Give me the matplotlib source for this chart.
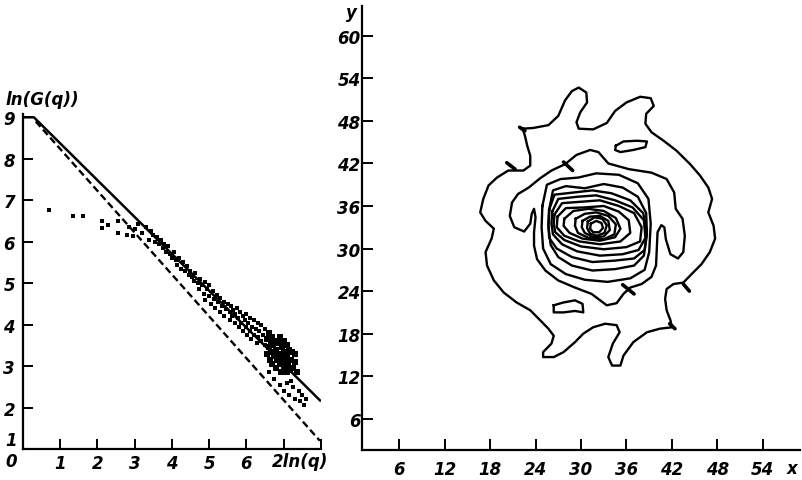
import numpy as np
import matplotlib
matplotlib.use('Agg')
import matplotlib.pyplot as plt

# ---- left panel: ln G(q) vs 2 ln(q) ----
fit_x = [0.0, 0.3, 8.0]
fit_y = [9.0, 9.0, 2.15]
low_x = [0.35, 7.97]
low_y = [8.9, 1.2]

stray_x = [0.71, 1.34, 1.62, 2.12, 2.30, 2.12, 2.56, 2.56, 2.79, 2.97]
stray_y = [6.76, 6.61, 6.61, 6.49, 6.41, 6.33, 6.49, 6.20, 6.16, 6.13]

clust_x = [2.85, 3.0, 3.1, 3.2, 3.3, 3.4, 3.45, 3.5,
           3.55, 3.6, 3.65, 3.7, 3.75, 3.8, 3.85, 3.9, 3.95, 4.0, 4.05, 4.1,
           4.15, 4.2, 4.25, 4.3, 4.35, 4.4, 4.45, 4.5,
           4.55, 4.6, 4.62, 4.7, 4.72, 4.75, 4.8, 4.85, 4.88, 4.9, 4.95, 5.0,
           5.0, 5.05, 5.1, 5.12, 5.15, 5.2, 5.25, 5.3, 5.3, 5.35, 5.4, 5.4,
           5.45, 5.5,
           5.55, 5.55, 5.6, 5.62, 5.65, 5.7, 5.7, 5.75, 5.78, 5.8, 5.82, 5.85,
           5.9, 5.9, 5.95, 6.0, 6.0, 6.02, 6.05, 6.1, 6.1, 6.12, 6.15, 6.2,
           6.2, 6.25, 6.28, 6.3, 6.3, 6.35, 6.4, 6.4, 6.45, 6.5, 6.5,
           6.9, 7.0, 7.1, 7.15, 7.25, 7.3, 7.4, 7.45, 7.5, 7.55, 7.6, 6.75,
           6.6, 7.2]
clust_y = [6.35, 6.3, 6.42, 6.2, 6.35, 6.05, 6.25, 6.15,
           6.0, 6.12, 5.95, 6.05, 5.85, 5.95, 5.75, 5.9, 5.7, 5.6, 5.75, 5.55,
           5.45, 5.6, 5.35, 5.5, 5.3, 5.42, 5.2, 5.3,
           5.15, 5.05, 5.25, 5.0, 4.85, 5.1, 4.95, 4.75, 5.02, 4.6, 4.85, 4.95,
           4.7, 4.5, 4.8, 4.62, 4.4, 4.72, 4.55, 4.65, 4.3, 4.45, 4.55, 4.2,
           4.38, 4.5,
           4.3, 4.12, 4.45, 4.22, 4.35, 4.05, 4.25, 4.4, 4.15, 3.95, 4.3, 4.05,
           4.2, 3.85, 4.1, 3.95, 4.25, 3.75, 4.05, 3.85, 4.15, 3.65, 3.95, 4.1,
           3.75, 3.9, 3.55, 4.05, 3.7, 3.85, 3.6, 4.0, 3.75, 3.5, 3.9,
           2.55, 2.4, 2.6, 2.3, 2.5, 2.2, 2.4, 2.15, 2.3, 2.05, 2.2, 2.7,
           2.85, 2.65]

blob_x = [6.55, 6.55, 6.6, 6.6, 6.62, 6.65, 6.68, 6.7, 6.7, 6.72, 6.75, 6.78,
          6.8, 6.8, 6.82, 6.85, 6.88, 6.9, 6.9, 6.92, 6.95, 6.98, 7.0, 7.0,
          7.02, 7.05, 7.08, 7.1, 7.1, 7.12, 7.15, 7.18, 7.2, 7.22, 7.25, 7.3,
          7.35, 7.3]
blob_y = [3.65, 3.3, 3.8, 3.45, 3.15, 3.6, 3.35, 3.7, 3.05, 3.5, 3.25, 3.6,
          2.95, 3.4, 3.15, 3.55, 3.3, 3.05, 3.7, 2.85, 3.45, 3.2, 3.6, 2.95,
          3.35, 3.1, 3.5, 2.85, 3.25, 3.0, 3.4, 2.9, 3.15, 3.35, 2.95, 3.1,
          2.85, 3.3]

left_ticks = [0, 1, 2, 3, 4, 5, 6, 7, 8]
left_xlabels = ['', '1', '2', '3', '4', '5', '6', '', '']
left_yticks = [2, 3, 4, 5, 6, 7, 8, 9]

# ---- right panel: contour map ----
outer_x = [22.3, 23.7, 25.7, 27.0, 27.9, 28.8, 29.7, 30.7, 30.8, 29.9, 29.4, 29.7,
           31.6, 33.4, 34.5, 36.0, 37.8, 39.2, 39.6, 38.6, 38.5, 39.3, 40.9, 42.6,
           44.4, 45.7, 46.8, 47.3, 46.8, 47.5, 47.7, 47.0, 45.9, 44.6, 43.5, 42.2,
           41.3, 41.1, 41.3, 41.8, 42.0, 40.4, 38.7, 36.9, 35.6, 35.2, 34.1, 33.6,
           34.2, 35.1, 34.7, 33.2, 31.6, 30.3, 29.2, 27.7, 26.4, 25.0, 25.0, 26.1,
           26.4, 25.7, 24.6, 23.3, 21.5, 19.8, 18.5, 17.6, 17.4, 18.2, 18.5, 17.4,
           16.7, 17.1, 17.8, 18.9, 20.4, 21.5, 22.4, 23.3, 23.3, 22.9, 22.6, 22.3]
outer_y = [46.9, 47.0, 47.4, 48.7, 50.9, 52.2, 52.7, 52.0, 50.6, 49.2, 47.8, 46.9,
           46.8, 47.7, 49.4, 50.6, 51.4, 51.2, 50.1, 49.0, 47.6, 46.4, 45.2, 43.8,
           41.9, 40.3, 38.6, 37.0, 35.1, 33.2, 31.4, 29.5, 27.8, 26.4, 25.2, 25.0,
           24.3, 22.9, 21.3, 19.9, 18.9, 18.7, 18.2, 16.8, 14.9, 13.5, 13.5, 14.7,
           16.6, 18.2, 19.2, 19.4, 18.9, 18.0, 16.8, 15.4, 14.7, 14.7, 15.4, 16.6,
           17.7, 18.7, 19.9, 21.3, 22.4, 23.8, 25.5, 27.6, 29.5, 31.4, 32.8, 33.9,
           35.1, 37.0, 38.9, 40.0, 41.0, 41.0, 41.0, 41.7, 43.1, 44.5, 45.9, 46.9]

c2_x = [27.9, 26.1, 24.6, 23.1, 21.7, 20.9, 20.6, 21.2, 22.5, 23.3, 23.5, 23.8,
        24.0, 23.8, 23.8, 24.2, 25.3, 27.0, 29.2, 31.4, 33.4, 34.7, 35.6, 36.5,
        38.0, 39.3, 39.9, 40.0, 40.1, 40.6, 41.0, 41.2, 41.8, 42.8, 43.5, 43.7,
        43.4, 42.5, 42.3, 41.3, 39.3, 36.3, 33.6, 32.3, 31.2, 29.4, 27.9]
c2_y = [41.9, 41.0, 39.9, 38.6, 37.7, 36.5, 34.6, 33.0, 32.4, 33.5, 34.9, 35.6,
        34.4, 32.3, 30.4, 28.5, 26.9, 25.5, 24.5, 23.6, 22.0, 22.3, 23.6, 24.5,
        25.0, 26.0, 27.6, 29.9, 32.3, 33.3, 33.0, 31.3, 29.2, 28.6, 29.5, 31.8,
        34.2, 35.6, 37.9, 39.8, 40.7, 41.2, 42.0, 43.6, 43.9, 43.2, 41.9]

ring3_x = [24.9, 25.5, 27.3, 29.6, 32.0, 35.0, 37.5, 38.9, 39.2, 39.0, 38.4, 36.5,
           33.5, 30.5, 28.0, 26.0, 25.0, 24.8, 24.9]
ring3_y = [36.0, 39.0, 39.8, 40.0, 40.6, 40.4, 39.2, 37.0, 33.5, 29.5, 27.0, 25.8,
           25.3, 25.6, 26.4, 27.8, 30.0, 33.0, 36.0]
ring4_x = [25.8, 26.3, 28.0, 30.5, 33.0, 35.5, 37.5, 38.6, 38.7, 38.3, 37.0, 34.5,
           31.5, 28.8, 27.0, 26.0, 25.7, 25.8]
ring4_y = [35.5, 38.2, 38.8, 38.5, 39.1, 38.6, 37.3, 35.0, 32.0, 29.0, 27.6, 27.1,
           26.9, 27.6, 28.8, 30.5, 33.0, 35.5]
ring5_x = [25.8, 26.5, 29.0, 31.5, 34.0, 36.5, 38.2, 38.7, 38.4, 37.0, 34.5, 31.5,
           28.8, 26.8, 25.8, 25.7, 25.8]
ring5_y = [35.5, 37.6, 37.9, 38.2, 37.8, 36.8, 35.0, 32.5, 29.8, 28.6, 28.3, 28.1,
           28.8, 30.0, 31.5, 33.5, 35.5]
ring6_x = [26.2, 27.0, 29.5, 32.0, 34.5, 36.8, 38.3, 38.5, 37.6, 35.5, 32.5, 29.5,
           27.5, 26.3, 26.1, 26.2]
ring6_y = [35.2, 37.0, 37.3, 37.5, 36.8, 35.8, 34.0, 31.5, 29.8, 29.2, 29.0, 29.6,
           30.6, 32.0, 33.5, 35.2]
ring7_x = [26.5, 27.5, 30.0, 32.5, 35.0, 37.0, 38.0, 37.8, 36.0, 33.0, 30.0, 27.8,
           26.6, 26.4, 26.5]
ring7_y = [34.8, 36.4, 36.6, 36.8, 36.0, 35.0, 33.0, 31.0, 30.2, 29.9, 30.3, 31.2,
           32.3, 33.5, 34.8]
ring8_x = [26.9, 28.0, 30.5, 33.0, 35.0, 36.3, 36.5, 35.2, 32.5, 29.8, 27.8, 26.8, 26.9]
ring8_y = [34.5, 35.7, 35.8, 36.0, 35.2, 34.0, 32.2, 31.0, 30.6, 31.0, 31.8, 33.0, 34.5]
ring9_x = [27.8, 29.0, 31.0, 33.0, 34.6, 35.2, 34.5, 32.5, 30.2, 28.5, 27.7, 27.8]
ring9_y = [34.2, 35.3, 35.6, 35.3, 34.3, 32.8, 31.6, 31.1, 31.4, 32.2, 33.2, 34.2]
ring10_x = [29.3, 30.5, 32.0, 33.6, 34.6, 34.4, 33.0, 31.0, 29.6, 29.2, 29.3]
ring10_y = [34.2, 34.9, 35.1, 34.6, 33.4, 32.0, 31.3, 31.5, 32.2, 33.2, 34.2]
ring11_x = [30.2, 31.2, 32.5, 33.6, 33.8, 33.0, 31.6, 30.5, 30.1, 30.2]
ring11_y = [33.9, 34.5, 34.6, 33.9, 32.6, 31.7, 31.6, 32.2, 33.0, 33.9]
ring12_x = [30.9, 31.8, 32.8, 33.4, 33.1, 32.1, 31.2, 30.8, 30.9]
ring12_y = [33.8, 34.4, 34.2, 33.3, 32.2, 31.8, 32.1, 32.9, 33.8]
ring13_x = [31.3, 32.0, 32.7, 32.9, 32.4, 31.6, 31.2, 31.3]
ring13_y = [33.5, 33.9, 33.6, 32.9, 32.3, 32.3, 32.8, 33.5]

isl1_x = [34.6, 35.6, 37.4, 38.7, 38.5, 36.9, 35.2, 34.5, 34.6]
isl1_y = [44.5, 45.1, 45.2, 45.1, 44.3, 43.9, 43.6, 43.9, 44.5]
isl2_x = [26.4, 27.7, 29.2, 30.2, 30.3, 29.2, 27.7, 26.4, 26.4]
isl2_y = [22.0, 22.4, 22.7, 22.2, 21.0, 21.2, 21.0, 21.0, 22.0]

# little barbs on the contours
barb_x0 = [21.9, 20.2, 27.7, 35.5, 43.5, 41.7]
barb_y0 = [47.1, 42.1, 42.2, 24.9, 25.0, 19.4]
barb_x1 = [22.6, 21.3, 28.9, 37.0, 44.3, 42.4]
barb_y1 = [46.6, 41.2, 41.0, 23.6, 24.0, 18.7]

right_xticks = [6, 12, 18, 24, 30, 36, 42, 48, 54]
right_yticks = [6, 12, 18, 24, 30, 36, 42, 48, 54, 60]

FONT = dict(family='DejaVu Sans', style='italic', weight='bold', size=12)

fig = plt.figure(figsize=(8.02, 4.81), dpi=100)
fig.patch.set_facecolor('white')


def style(ax, xpad, ypad, tlen):
    for s in ('top', 'right'):
        ax.spines[s].set_visible(False)
    for s in ('left', 'bottom'):
        ax.spines[s].set_linewidth(1.6)
    ax.tick_params(direction='in', length=tlen, width=1.4)
    ax.tick_params(axis='x', pad=xpad)
    ax.tick_params(axis='y', pad=ypad)


# left panel
ax = fig.add_axes([0.0283, 0.0644, 0.3719, 0.6965])
style(ax, 3.5, 5.5, 7)
ax.plot(fit_x, fit_y, color='black', lw=1.8, solid_capstyle='butt')
ax.plot(low_x, low_y, color='black', lw=1.7, linestyle=(0, (3, 1.6)))
ax.scatter(stray_x, stray_y, s=7, marker='s', c='black', lw=0)
ax.scatter(clust_x, clust_y, s=9, marker='s', c='black', lw=0)
ax.scatter(blob_x, blob_y, s=22, marker='s', c='black', lw=0)
ax.set_xlim(0, 8.0)
ax.set_ylim(1.0, 9.08)
ax.set_xticks(left_ticks)
ax.set_xticklabels(left_xlabels, fontdict=FONT)
ax.set_yticks(left_yticks)
ax.set_yticklabels([str(v) for v in left_yticks], fontdict=FONT)
ax.text(-0.31, 0.71, '0', ha='center', va='center', clip_on=False, **FONT)
ax.text(-0.31, 1.22, '1', ha='center', va='center', clip_on=False, **FONT)
ax.text(7.43, 0.71, '2ln(q)', ha='center', va='center', clip_on=False, **FONT)
ax.text(-0.47, 9.45, 'ln(G(q))', ha='left', va='center', clip_on=False, **FONT)

# right panel
ax = fig.add_axes([0.4514, 0.0624, 0.5461, 0.9231])
style(ax, 7.5, 1.0, 8)
lines = [(outer_x, outer_y), (c2_x, c2_y), (ring3_x, ring3_y), (ring4_x, ring4_y),
         (ring5_x, ring5_y), (ring6_x, ring6_y), (ring7_x, ring7_y),
         (ring8_x, ring8_y), (ring9_x, ring9_y), (ring10_x, ring10_y),
         (ring11_x, ring11_y), (ring12_x, ring12_y), (ring13_x, ring13_y),
         (isl1_x, isl1_y), (isl2_x, isl2_y)]
for lx, ly in lines:
    ax.plot(lx, ly, color='black', lw=1.7, solid_joinstyle='round')
for x0, y0, x1, y1 in zip(barb_x0, barb_y0, barb_x1, barb_y1):
    ax.plot([x0, x1], [y0, y1], color='black', lw=2.6, solid_capstyle='round')
ax.set_xlim(1.1, 58.9)
ax.set_ylim(1.6, 64.2)
ax.set_xticks(right_xticks)
ax.set_xticklabels([str(v) for v in right_xticks], fontdict=FONT)
ax.set_yticks(right_yticks)
ax.set_yticklabels([str(v) for v in right_yticks], fontdict=FONT)
ax.text(57.9, -1.0, 'x', ha='center', va='center', clip_on=False, **FONT)
ax.text(-0.3, 63.3, 'y', ha='center', va='center', clip_on=False, **FONT)

fig.savefig('out.png', dpi=100)
